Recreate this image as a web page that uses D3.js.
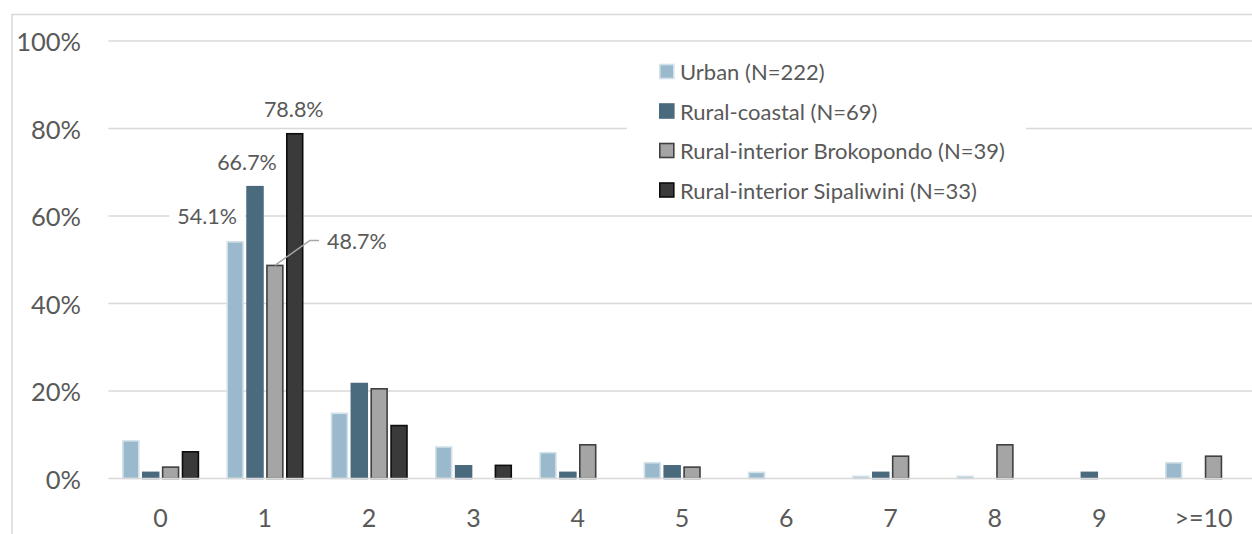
<!DOCTYPE html>
<html>
<head>
<meta charset="utf-8">
<script src="https://cdn.jsdelivr.net/npm/d3@7"></script>
<style>
  html, body { margin: 0; padding: 0; background: #fff; }
  svg { display: block; }
  text { font-family: Lato, "Noto Sans", sans-serif; fill: #595959; }
</style>
</head>
<body>
<svg id="chart" width="1252" height="534"></svg>
<script>
// Number of episodes per respondent, share of each population group (%)
const categories = ["0", "1", "2", "3", "4", "5", "6", "7", "8", "9", ">=10"];
const seriesNames = [
  "Urban (N=222)",
  "Rural-coastal (N=69)",
  "Rural-interior Brokopondo (N=39)",
  "Rural-interior Sipaliwini (N=33)"
];
const urban      = [8.6, 54.1, 14.9, 7.2, 5.9, 3.6, 1.4, 0.5, 0.5, 0.0, 3.6];
const coastal    = [1.4, 66.7, 21.7, 2.9, 1.4, 2.9, 0.0, 1.4, 0.0, 1.4, 0.0];
const brokopondo = [2.6, 48.7, 20.5, 0.0, 7.7, 2.6, 0.0, 5.1, 7.7, 0.0, 5.1];
const sipaliwini = [6.1, 78.8, 12.1, 3.0, 0.0, 0.0, 0.0, 0.0, 0.0, 0.0, 0.0];
const yTicks = [0, 20, 40, 60, 80, 100];
const yTickLabels = ["0%", "20%", "40%", "60%", "80%", "100%"];

const seriesValues = [urban, coastal, brokopondo, sipaliwini];
const fills   = ["#9bb9cc", "#4a6a7e", "#a5a5a5", "#3a3a3a"];
const strokes = ["#d3e1ea", "#4a6a7e", "#404040", "#0d0d0d"];

const svg = d3.select("#chart");

// outer chart frame (extends past the visible area on the right and bottom)
svg.append("rect")
  .attr("x", 12).attr("y", 14.5)
  .attr("width", 1300).attr("height", 600)
  .attr("fill", "none").attr("stroke", "#d9d9d9").attr("stroke-width", 1.5);

const plotLeft = 108.4, plotRight = 1255.6;
const x0 = d3.scaleBand().domain(categories).range([plotLeft, plotRight]).padding(0);
const x1 = d3.scaleBand().domain(d3.range(4))
  .range([14.5, 90]).paddingInner(0.2).paddingOuter(0);
const y = d3.scaleLinear().domain([0, 100]).range([478.5, 41]);

// gridlines
svg.append("g").selectAll("line").data(yTicks.slice(1)).join("line")
  .attr("x1", plotLeft).attr("x2", 1252)
  .attr("y1", d => y(d)).attr("y2", d => y(d))
  .attr("stroke", "#d9d9d9").attr("stroke-width", 1.5);

// y axis labels
svg.append("g").selectAll("text").data(yTicks).join("text")
  .attr("x", 81).attr("y", d => y(d))
  .attr("text-anchor", "end").attr("dominant-baseline", "central")
  .style("font-size", "25.5px")
  .text((d, i) => yTickLabels[i]);

// bars
const rows = [];
seriesValues.forEach((vals, s) => {
  vals.forEach((v, c) => rows.push({ s, c: categories[c], v }));
});
svg.append("g").selectAll("rect").data(rows.filter(d => d.v > 0)).join("rect")
  .attr("x", d => x0(d.c) + x1(d.s))
  .attr("width", x1.bandwidth())
  .attr("y", d => y(d.v))
  .attr("height", d => y(0) - y(d.v))
  .attr("fill", d => fills[d.s])
  .attr("stroke", d => strokes[d.s])
  .attr("stroke-width", 1.6);

// x axis baseline
svg.append("line")
  .attr("x1", plotLeft).attr("x2", 1252)
  .attr("y1", y(0)).attr("y2", y(0))
  .attr("stroke", "#d9d9d9").attr("stroke-width", 1.6);

// x axis labels
svg.append("g").selectAll("text").data(categories).join("text")
  .attr("x", d => x0(d) + x0.bandwidth() / 2)
  .attr("y", 517)
  .attr("text-anchor", "middle").attr("dominant-baseline", "central")
  .style("font-size", "25px")
  .text(d => d);

// data labels for the "1" group, placed beside their bars
const labelCat = "1";
const labelOffsets = [
  { s: 0, dx: -28, dy: -26 },
  { s: 1, dx: -8,  dy: -25 },
  { s: 2, dx: 82,  dy: -24, leader: true },
  { s: 3, dx: -1,  dy: -25 }
];
const lblG = svg.append("g");
labelOffsets.forEach(o => {
  const v = seriesValues[o.s][categories.indexOf(labelCat)];
  const bx = x0(labelCat) + x1(o.s) + x1.bandwidth() / 2;
  const by = y(v);
  const tx = bx + o.dx, ty = by + o.dy;
  const t = lblG.append("text")
    .attr("x", tx).attr("y", ty)
    .attr("text-anchor", "middle").attr("dominant-baseline", "central")
    .style("font-size", "21.5px")
    .text(v.toFixed(1) + "%");
  const bb = t.node().getBBox();
  lblG.insert("rect", "text")
    .attr("x", bb.x - 8).attr("y", bb.y - 2)
    .attr("width", bb.width + 16).attr("height", bb.height + 4)
    .attr("fill", "#fff");
  if (o.leader) {
    lblG.append("polyline")
      .attr("points", [[bx, by], [bx + 35, ty - 1], [bb.x - 8, ty - 1]].map(p => p.join(",")).join(" "))
      .attr("fill", "none").attr("stroke", "#a6a6a6").attr("stroke-width", 1.5);
  }
});

// legend
const legend = svg.append("g");
legend.append("rect")
  .attr("x", 627).attr("y", 50).attr("width", 399).attr("height", 160)
  .attr("fill", "#fff");
const legY = d3.scalePoint().domain(d3.range(4)).range([71.5, 190]);
const items = legend.selectAll("g.item").data(seriesNames).join("g").attr("class", "item")
  .attr("transform", (d, i) => `translate(659,${legY(i)})`);
items.append("rect")
  .attr("x", 0.8).attr("y", -7).attr("width", 14).attr("height", 14)
  .attr("fill", (d, i) => fills[i])
  .attr("stroke", (d, i) => strokes[i]).attr("stroke-width", 1.6);
items.append("text")
  .attr("x", 21).attr("y", 0).attr("dominant-baseline", "central")
  .style("font-size", "22px")
  .text(d => d);
</script>
</body>
</html>
